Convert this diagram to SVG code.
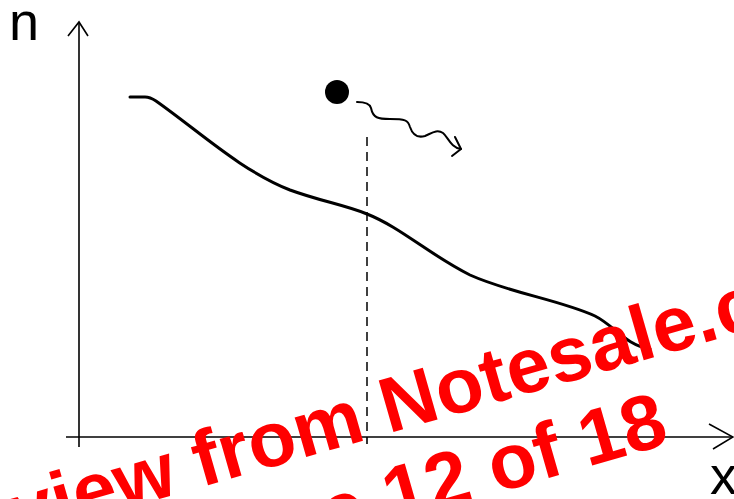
<svg xmlns="http://www.w3.org/2000/svg" width="734" height="499" viewBox="0 0 734 499">
<style>
.ax{fill:none;stroke:#000;stroke-width:1.6}
.cv{fill:none;stroke:#000;stroke-width:3;stroke-linecap:round}
.dash{fill:none;stroke:#000;stroke-width:1.5;stroke-dasharray:9 6}
.wv{fill:none;stroke:#000;stroke-width:2;stroke-linecap:round;stroke-linejoin:round}
.lbl{font-family:"Liberation Sans",Arial,sans-serif;font-size:54px;fill:#000}
.wm{font-family:"Liberation Sans",Arial,sans-serif;font-weight:bold;font-size:78px;fill:#ff0000}
</style>
<rect width="734" height="499" fill="#fff"/>
<g id="axes">
<line class="ax" x1="79" y1="22" x2="79" y2="447"/>
<polyline class="ax" points="68,36 79,22 88,36"/>
<line class="ax" x1="66" y1="437" x2="733" y2="437"/>
<polyline class="ax" points="709,424 733,437 713,449"/>
<line class="ax" x1="367" y1="437" x2="367" y2="444"/>
</g>
<g id="labels">
<text class="lbl" x="9" y="40">n</text>
<text class="lbl" x="710" y="494">x</text>
</g>
<g id="curve">
<path class="cv" d="M130,97 L145,97 Q150,97 156,101 C200,132 240,170 290,190 C320,201 345,205 367,214 C400,227 430,255 470,275 C510,293 560,300 595,316 C615,326 625,345 650,349"/>
</g>
<g id="particle">
<circle cx="337" cy="92" r="12" fill="#000"/>
</g>
<g id="connectors">
<line class="dash" x1="367" y1="137" x2="367" y2="437"/>
<path class="wv" d="M357,102 C366,102 370,104 371,108 C373,118 378,119 390,119 C405,119 408,120 410,127 C413,136 418,138 425,136 C432,133 437,129 443,133 C448,137 451,148 461,149"/>
<polyline class="wv" points="455,137 461,149 452,156"/>
</g>
<g id="watermark" transform="translate(390,433) rotate(-16)">
<text class="wm" x="18" y="0" text-anchor="middle">Preview from Notesale.co.uk</text>
<text class="wm" x="18" y="87" text-anchor="middle">Page 12 of 18</text>
</g>
</svg>
